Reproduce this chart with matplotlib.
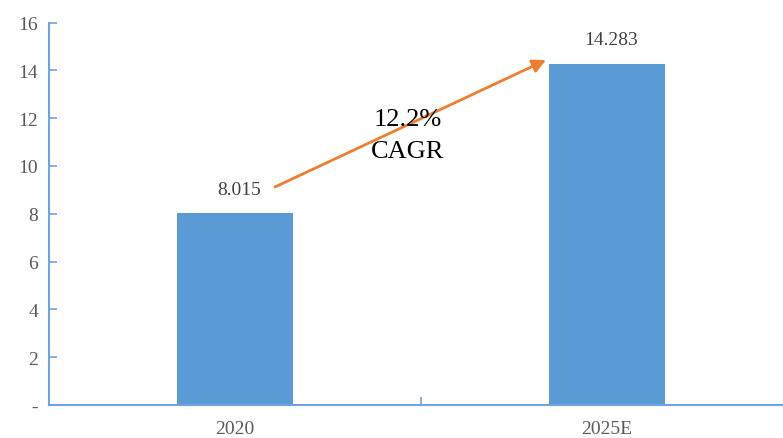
import matplotlib.pyplot as plt
from matplotlib.ticker import FixedLocator

plt.rcParams['font.family'] = ['Liberation Serif', 'DejaVu Serif']

years = ['2020', '2025E']
values = [8.015, 14.283]
y_ticks = [0, 2, 4, 6, 8, 10, 12, 14, 16]
y_labels = ['-', '2', '4', '6', '8', '10', '12', '14', '16']
cagr_text = '12.2%\nCAGR'

axis_color = '#6FA3DB'
bar_color = '#5B9BD5'
text_color = '#595959'

fig = plt.figure(figsize=(7.83, 4.39), dpi=100)
W, H = 783, 439
ax = fig.add_axes([49 / W, (439 - 406) / H, (783 - 49) / W, (406 - 23.5) / H])

x = list(range(len(years)))
ax.bar(x, values, width=0.314, color=bar_color, zorder=2)

for xi, v in zip(x, values):
    ax.text(xi + 0.01, v + 0.65, '{:.3f}'.format(v), ha='center', va='bottom',
            fontsize=14, color='#404040')

ax.set_xlim(-0.5, 1.473)
ax.set_ylim(0, 16)

ax.set_yticks(y_ticks)
ax.set_yticklabels(y_labels)
ax.tick_params(axis='y', direction='in', length=6, width=1.2, color=axis_color,
               labelsize=14, labelcolor=text_color, pad=8)

# category boundary tick on x, labels on minor ticks
ax.xaxis.set_major_locator(FixedLocator([0.5]))
ax.set_xticklabels([''])
ax.tick_params(axis='x', which='major', direction='in', length=6, width=1.2,
               color=axis_color)
ax.xaxis.set_minor_locator(FixedLocator(x))
ax.set_xticklabels(years, minor=True)
ax.tick_params(axis='x', which='minor', length=0, labelsize=14,
               labelcolor=text_color, pad=11)

for side in ['top', 'right']:
    ax.spines[side].set_visible(False)
for side in ['left', 'bottom']:
    ax.spines[side].set_color(axis_color)
    ax.spines[side].set_linewidth(1.5)

ax.annotate('', xy=(0.836, 14.43), xytext=(0.1075, 9.12),
            arrowprops=dict(arrowstyle='-|>', color='#ED7D31', lw=2,
                            mutation_scale=20, shrinkA=0, shrinkB=0))
ax.text(0.465, 11.3, cagr_text, ha='center', va='center', fontsize=19,
        color='black', linespacing=1.6)

fig.savefig('out.png', dpi=100)
